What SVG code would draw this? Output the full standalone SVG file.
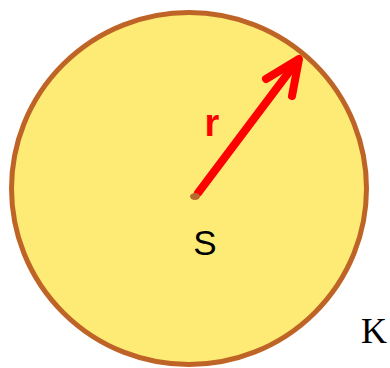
<svg xmlns="http://www.w3.org/2000/svg" width="390" height="368" viewBox="0 0 390 368">
<style>
.lbl{font-family:"Liberation Sans",Arial,sans-serif}
.arrow{stroke:#ff0000;stroke-width:8;stroke-linecap:round;stroke-linejoin:round;fill:none}
</style>
<rect width="390" height="368" fill="#ffffff"/>
<g id="circle-K">
<ellipse cx="189" cy="188.5" rx="177.5" ry="176" fill="#fdeb75" stroke="#bf6427" stroke-width="5"/>
<text x="361" y="343" font-family="'Liberation Serif','Times New Roman',serif" font-size="36" fill="#000">K</text>
</g>
<g id="radius">
<line class="arrow" x1="198" y1="193" x2="298" y2="60"/>
<polyline class="arrow" points="266,79 299,59 292,96"/>
<text class="lbl" x="212" y="136" font-size="38" font-weight="bold" fill="#ff0000" text-anchor="middle">r</text>
</g>
<g id="center-S">
<ellipse cx="195" cy="196.5" rx="5" ry="3.5" fill="#b8682e"/>
<text class="lbl" x="205" y="255" font-size="35" fill="#000" text-anchor="middle">S</text>
</g>
</svg>
